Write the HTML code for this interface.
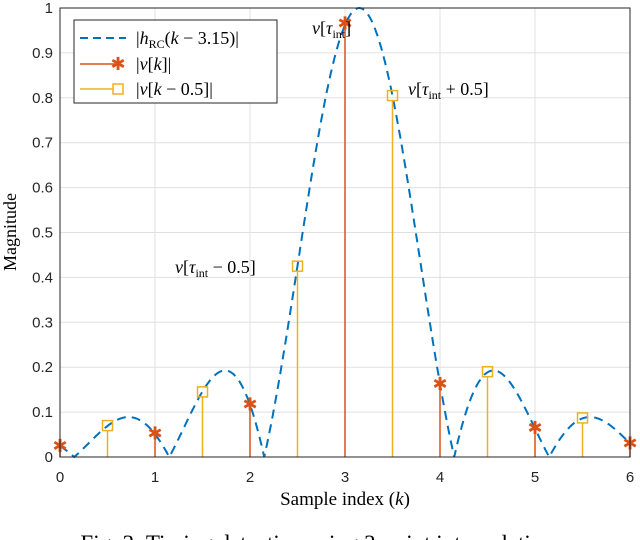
<!DOCTYPE html>
<html><head><meta charset="utf-8"><style>
body{margin:0;background:#fff;width:640px;height:540px;overflow:hidden}
svg{display:block}
.tk{font-family:"Liberation Sans",sans-serif;font-size:15px;fill:#262626}
.sf{font-family:"Liberation Serif",serif;fill:#000}
</style></head><body>
<svg id="chart" width="640" height="540">
<g id="grid"></g>
<g id="curve"></g>
<g id="stems"></g>
<rect x="60" y="8" width="570" height="449" fill="none" stroke="#262626" stroke-width="1"/>
<g id="ticks"></g>
<text class="sf" x="345" y="505" font-size="19" text-anchor="middle">Sample index (<tspan font-style="italic">k</tspan>)</text>
<text class="sf" font-size="18" text-anchor="middle" transform="translate(16,232) rotate(-90)">Magnitude</text>
<text class="sf" x="312" y="34" font-size="18"><tspan font-style="italic">v</tspan>[<tspan font-style="italic">τ</tspan><tspan font-size="12" dy="4">int</tspan><tspan dy="-4">]</tspan></text>
<text class="sf" x="408" y="95" font-size="18"><tspan font-style="italic">v</tspan>[<tspan font-style="italic">τ</tspan><tspan font-size="12" dy="4">int</tspan><tspan dy="-4"> + 0.5]</tspan></text>
<text class="sf" x="175" y="273" font-size="18"><tspan font-style="italic">v</tspan>[<tspan font-style="italic">τ</tspan><tspan font-size="12" dy="4">int</tspan><tspan dy="-4"> − 0.5]</tspan></text>
<g>
<rect x="74" y="20" width="203" height="83" fill="#fff" stroke="#262626" stroke-width="1"/>
<line x1="80" y1="38" x2="126" y2="38" stroke="#0072bd" stroke-width="2" stroke-dasharray="8,5"/>
<text class="sf" x="136" y="44" font-size="18"><tspan>|</tspan><tspan font-style="italic">h</tspan><tspan font-size="12" dy="4">RC</tspan><tspan dy="-4">(</tspan><tspan font-style="italic">k</tspan> − 3.15)|</text>
<line x1="80" y1="64" x2="118" y2="64" stroke="#d95319" stroke-width="1.5"/>
<text x="118" y="70" font-size="18" fill="#d95319" text-anchor="middle" font-family="DejaVu Sans">✱</text>
<text class="sf" x="136" y="70" font-size="18">|<tspan font-style="italic">v</tspan>[<tspan font-style="italic">k</tspan>]|</text>
<line x1="80" y1="89" x2="113" y2="89" stroke="#edb120" stroke-width="1.5"/>
<rect x="113" y="84" width="10" height="10" fill="none" stroke="#edb120" stroke-width="1.5"/>
<text class="sf" x="136" y="95" font-size="18">|<tspan font-style="italic">v</tspan>[<tspan font-style="italic">k</tspan> − 0.5]|</text>
</g>
<text class="sf" x="320" y="551" font-size="23" text-anchor="middle">Fig. 3: Timing detection using 3-point interpolation.</text>
</svg>
<script>
const xTicks=[0,1,2,3,4,5,6];
const yTicks=[0,0.1,0.2,0.3,0.4,0.5,0.6,0.7,0.8,0.9,1];
const yTickLabels=["0","0.1","0.2","0.3","0.4","0.5","0.6","0.7","0.8","0.9","1"];
const curveDelay=3.15;
const curveRolloff=0.25;
const intIdx=[0,1,2,3,4,5,6];
const intVals=[0.025,0.052,0.117,0.965,0.163,0.065,0.03];
const halfIdx=[0.5,1.5,2.5,3.5,4.5,5.5];
const halfVals=[0.07,0.145,0.425,0.805,0.19,0.087];
const X=k=>60+k*95, Y=v=>457-v*449;
const NS="http://www.w3.org/2000/svg";
function mk(t,a,p){const e=document.createElementNS(NS,t);for(const k in a)e.setAttribute(k,a[k]);p.appendChild(e);return e;}
const grid=document.getElementById('grid'),tk=document.getElementById('ticks');
xTicks.forEach(k=>{
 const l=mk('line',{x1:X(k),x2:X(k),y1:8,y2:457,stroke:'#e0e0e0'},grid);
 
 
 const t=mk('text',{x:X(k),y:482,'text-anchor':'middle',class:'tk'},tk);t.textContent=k;
 
 
});
yTicks.forEach((v,i)=>{
 const l=mk('line',{x1:60,x2:630,y1:Y(v),y2:Y(v),stroke:'#e0e0e0'},grid);
 
 
 const t=mk('text',{x:53,y:Y(v)+5,'text-anchor':'end',class:'tk'},tk);t.textContent=yTickLabels[i];
 
 
});
function rc(t){const b=curveRolloff;if(Math.abs(t)<1e-9)return 1;
 const s=Math.sin(Math.PI*t)/(Math.PI*t);const d=1-Math.pow(2*b*t,2);
 if(Math.abs(d)<1e-6)return Math.PI/4*s;return s*Math.cos(Math.PI*b*t)/d;}
let d='';for(let k=0;k<=6.0001;k+=0.01){d+=(d?'L':'M')+X(k).toFixed(1)+','+Y(Math.abs(rc(k-curveDelay))).toFixed(1);}
const cp=mk('path',{d:d,fill:'none',stroke:'#0072bd','stroke-width':2,'stroke-dasharray':'9,6'},document.getElementById('curve'));


const st=document.getElementById('stems');
intIdx.forEach((k,i)=>{
 const l=mk('line',{x1:X(k),x2:X(k),y1:457,y2:Y(intVals[i]),stroke:'#d95319','stroke-width':1.5},st);
 
 
 const m=mk('text',{x:X(k),y:Y(intVals[i])+6,'text-anchor':'middle','font-size':18,fill:'#d95319','font-family':'DejaVu Sans'},st);m.textContent='✱';
 
 
});
halfIdx.forEach((k,i)=>{
 const l=mk('line',{x1:X(k),x2:X(k),y1:457,y2:Y(halfVals[i])+5,stroke:'#edb120','stroke-width':1.5},st);
 
 
 const m=mk('rect',{x:X(k)-5,y:Y(halfVals[i])-5,width:10,height:10,fill:'none',stroke:'#edb120','stroke-width':1.5},st);
 
 
});
</script>
</body></html>
